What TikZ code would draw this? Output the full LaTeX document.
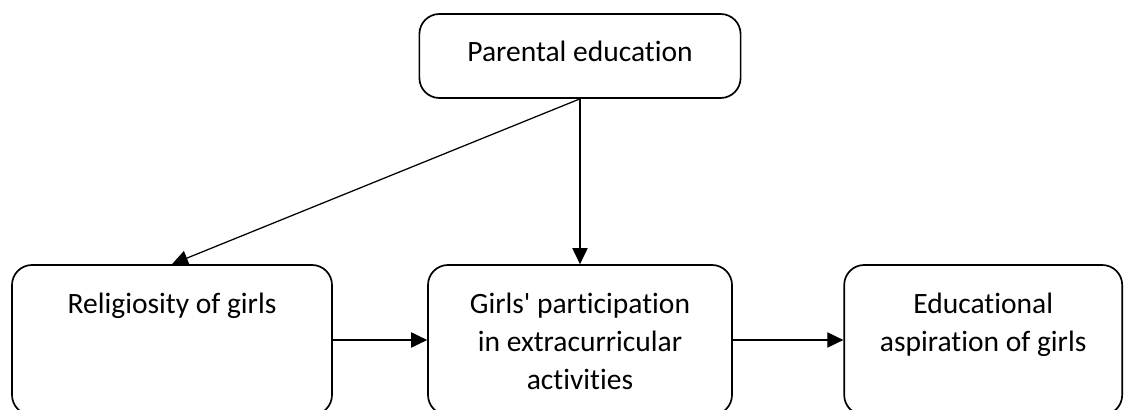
\documentclass[tikz,border=0pt]{standalone}
\usepackage{fontspec}
\setmainfont{Carlito}[Ligatures={NoCommon,TeXOff}]
\usetikzlibrary{arrows.meta}

\begin{document}
\begin{tikzpicture}[
  box/.style={rectangle, rounded corners=0.5cm, draw, line width=1.2pt},
  txt/.style={anchor=north, align=center, inner sep=0pt, font=\fontsize{21}{27}\selectfont},
  arr/.style={-{Triangle[length=0.4cm,width=0.38cm]}, line width=0.9pt}
]
\useasboundingbox (0,0) rectangle (28.1,10.25);
\clip (0,0) rectangle (28.1,10.25);

\node[box, minimum width=8.03cm, minimum height=2.1cm] (P) at (14.5,8.85) {};
\node[box, minimum width=8cm, minimum height=3.75cm] (R) at (4.3,1.75) {};
\node[box, minimum width=7.6cm, minimum height=3.75cm] (G) at (14.5,1.75) {};
\node[box, minimum width=6.95cm, minimum height=3.75cm] (E) at (24.58,1.75) {};

\node[txt] (Ptext) at ([yshift=-0.68cm]P.north) {Parental education};
\node[txt] (Rtext) at ([yshift=-0.72cm]R.north) {Religiosity of girls};
\node[txt] (Gtext) at ([yshift=-0.72cm]G.north) {Girls' participation\\in extracurricular\\activities};
\node[txt] (Etext) at ([yshift=-0.72cm]E.north) {Educational\\aspiration of girls};

\draw[arr] (P.south) -- (R.north);
\draw[arr] (P.south) -- (G.north);
\draw[arr] (R.east) -- (G.west);
\draw[arr] (G.east) -- (E.west);
\end{tikzpicture}
\end{document}
